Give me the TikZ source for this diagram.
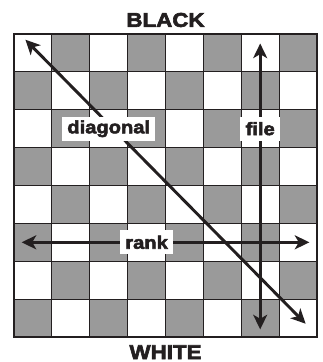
\documentclass[tikz,border=0pt]{standalone}
\usepackage{fontspec}
\setmainfont{Liberation Sans}
\newfontfamily\heavyfont[FakeBold=3,FakeStretch=1.12]{Liberation Sans Bold}
\usetikzlibrary{arrows.meta}
\definecolor{boardgray}{RGB}{154,154,154}
\definecolor{inkblack}{RGB}{35,31,32}
\begin{document}
\begin{tikzpicture}[
  side/.style={font=\heavyfont\fontsize{15}{15}\selectfont, text=inkblack},
  tag/.style={fill=white, inner xsep=4pt, inner ysep=1pt, minimum height=0.64cm, font=\heavyfont\fontsize{13.5}{13.5}\selectfont, text=inkblack},
  move/.style={line width=2.2pt, draw=inkblack, {Stealth[length=11pt,width=10.5pt,inset=3pt]}-{Stealth[length=11pt,width=10.5pt,inset=3pt]}}
]
\useasboundingbox (-0.370,-0.660) rectangle (8.158,8.898);
% squares
\foreach \i in {0,...,7}
  \foreach \j in {0,...,7} {
    \pgfmathparse{int(mod(\i+\j,2))}
    \ifnum\pgfmathresult=0
      \fill[boardgray] (\i,\j) rectangle ++(1,1);
    \fi
  }
\draw[inkblack, line width=0.8pt] (0,0) grid (8,8);
\draw[inkblack, line width=1pt] (0,0) rectangle (8,8);
\node[side] (black) at (4,8.37) {BLACK};
\node[side] (white) at (4,-0.40) {WHITE};
% end points of the moves
\coordinate (fileTop) at (6.5,7.75);
\coordinate (fileBot) at (6.5,0.2);
\coordinate (rankL) at (0.2,2.5);
\coordinate (rankR) at (7.8,2.5);
\coordinate (diagTL) at (0.3,7.85);
\coordinate (diagBR) at (7.7,0.35);
\draw[move] (fileTop) -- (fileBot);
\draw[move] (rankL) -- (rankR);
\draw[move] (diagTL) -- (diagBR);
\node[tag] (diagonal) at (2.5,5.5) {diagonal};
\node[tag] (file) at (6.5,5.5) {file};
\node[tag] (rank) at (3.5,2.5) {rank};
\end{tikzpicture}
\end{document}
